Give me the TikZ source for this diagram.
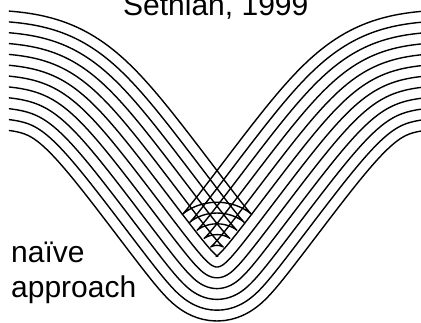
\documentclass[tikz,border=0pt]{standalone}
\usepackage{fontspec}
\setmainfont{Liberation Sans}
\begin{document}
\begin{tikzpicture}[x=10pt,y=-10pt,
  wave/.style={line width=1.4pt, black, line join=round},
  lbl/.style={font=\fontsize{30}{34.5}\selectfont, inner sep=0pt, anchor=base west}]
\useasboundingbox (0,0) rectangle (42.1,32.2);
\pgfmathsetmacro{\gz}{1.35*(1-2.17*ln(1+exp((1-15.3)/2.17)))}
\foreach \i in {0,...,300}{
  \pgfmathsetmacro\s{-1+\i/150}
  \pgfmathsetmacro\x{13*\s+13*\s*\s*\s}
  \pgfmathsetmacro\u{sqrt(\x*\x+1)}
  \pgfmathsetmacro\E{exp((\u-15.3)/2.17)}
  \pgfmathsetmacro\g{1.35*(\u-2.17*ln(1+\E))-\gz}
  \pgfmathsetmacro\p{1.35/(1+\E)*\x/\u}
  \pgfmathsetmacro\w{1/sqrt(1+\p*\p)}
  \pgfmathsetmacro\nx{-\p*\w}
  \expandafter\xdef\csname bx\i\endcsname{\x}
  \expandafter\xdef\csname bg\i\endcsname{\g}
  \expandafter\xdef\csname bn\i\endcsname{\nx}
  \expandafter\xdef\csname bw\i\endcsname{\w}
}
\begin{scope}
\clip (0.9,-1) rectangle (42.2,33);
\foreach \k in {-5,...,6}{
  \pgfmathsetmacro{\dd}{1.08*\k}
  \gdef\pth{}
  \foreach \i in {0,...,300}{
    \pgfmathsetmacro\X{21.7+\csname bx\i\endcsname+\dd*\csname bn\i\endcsname}
    \pgfmathsetmacro\Y{26.7-\csname bg\i\endcsname-\dd*\csname bw\i\endcsname}
    \xdef\pth{\pth (\X,\Y)}
  }
  \draw[wave] plot coordinates {\pth};
}
\end{scope}
\node[lbl] (title) at (12.3,1.5) {Sethian, 1999};
\node[lbl] (naive) at (1.1,26.2) {naïve};
\node[lbl] (appr) at (1.1,29.7) {approach};
\end{tikzpicture}
\end{document}
